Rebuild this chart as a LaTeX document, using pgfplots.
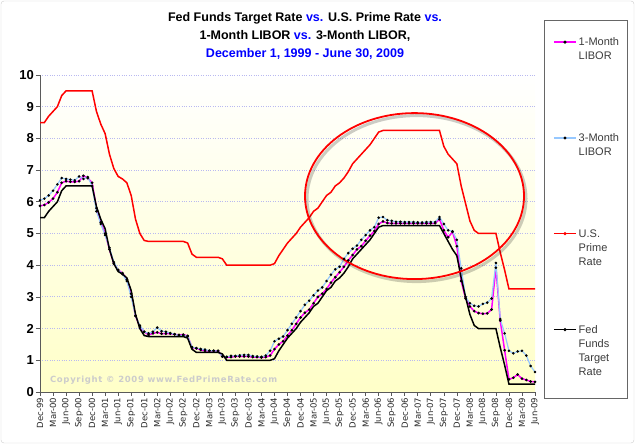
\documentclass[border=0pt]{standalone}
\usepackage{fontspec}
\setmainfont{Liberation Sans}
\newfontfamily\dejavu{DejaVu Sans}
\newfontfamily\dejavuls[LetterSpace=8]{DejaVu Sans}
\usepackage{pgfplots}
\pgfplotsset{compat=1.18}
\definecolor{libA}{RGB}{255,0,255}
\definecolor{libB}{RGB}{150,200,255}
\definecolor{gridc}{RGB}{185,185,240}
\definecolor{bgy}{RGB}{255,255,200}
\definecolor{titleblue}{RGB}{0,0,255}
\definecolor{legtext}{RGB}{60,60,60}
\definecolor{axc}{RGB}{90,90,90}
\definecolor{primered}{RGB}{255,0,0}
\begin{document}
\begin{tikzpicture}
\path[use as bounding box] (0pt,0pt) rectangle (640pt,444pt);
\draw[gray!40, rounded corners=3pt] (1pt,1pt) rectangle (634pt,443pt);
\node[align=center, font=\bfseries\fontsize{12.5}{18}\selectfont] at (305pt,408pt)
 {Fed Funds Target Rate \textcolor{titleblue}{vs.} U.S. Prime Rate \textcolor{titleblue}{vs.}\\
  1-Month LIBOR \textcolor{titleblue}{vs.} 3-Month LIBOR,\\
  \textcolor{titleblue}{December 1, 1999 - June 30, 2009}};
\draw[gray!80!black, fill=white] (544pt,46pt) rectangle (627pt,424pt);
\begin{axis}[
  at={(40pt,52pt)}, anchor=south west,
  scale only axis, width=495pt, height=317pt,
  xmin=0, xmax=114, ymin=0, ymax=10,
  axis lines*=left,
  axis line style={axc, line width=0.8pt},
  tick align=outside, major tick length=4pt,
  tick style={axc, line width=0.6pt},
  ytick={0,1,...,10},
  xtick={0,3,...,114},
  xticklabels={Dec-99,Mar-00,Jun-00,Sep-00,Dec-00,Mar-01,Jun-01,Sep-01,Dec-01,Mar-02,Jun-02,Sep-02,Dec-02,Mar-03,Jun-03,Sep-03,Dec-03,Mar-04,Jun-04,Sep-04,Dec-04,Mar-05,Jun-05,Sep-05,Dec-05,Mar-06,Jun-06,Sep-06,Dec-06,Mar-07,Jun-07,Sep-07,Dec-07,Mar-08,Jun-08,Sep-08,Dec-08,Mar-09,Jun-09},
  x tick label style={rotate=90, anchor=east, font=\dejavu\fontsize{8.5}{10}\selectfont, text=black!85, inner sep=1.5pt},
  y tick label style={font=\bfseries\fontsize{13}{15}\selectfont, inner sep=2pt},
  /pgf/number format/assume math mode=true,
  ymajorgrids, grid style={gridc, dotted, line width=0.8pt},
  axis background/.style={top color=white, bottom color=bgy},
  legend style={at={(1.0364,1.125)}, anchor=north west, draw=none, fill=none,
    font=\fontsize{11}{14}\selectfont, text=legtext, row sep=82.5pt, inner sep=0pt,
    cells={anchor=base west}},
]

% 1-Month LIBOR
\addplot[color=libA, line width=1.5pt, mark=*, mark size=0.45pt, mark options={black, fill=black},
  legend image code/.code={\draw[libA, line width=1.5pt] (0pt,3.5pt) -- (22pt,3.5pt); \fill[black] (11pt,3.5pt) circle[radius=0.7pt];}] coordinates {
(0,5.87)(1,5.9)(2,5.98)(3,6.1)(4,6.3)(5,6.6)(6,6.65)(7,6.63)(8,6.63)(9,6.65)(10,6.82)
(11,6.75)(12,6.6)(13,5.8)(14,5.35)(15,5.0)(16,4.5)(17,4.05)(18,3.85)(19,3.75)(20,3.55)
(21,3.1)(22,2.4)(23,2.05)(24,1.9)(25,1.8)(26,1.85)(27,1.88)(28,1.84)(29,1.84)(30,1.84)
(31,1.82)(32,1.8)(33,1.81)(34,1.77)(35,1.4)(36,1.38)(37,1.33)(38,1.3)(39,1.3)(40,1.3)
(41,1.3)(42,1.12)(43,1.1)(44,1.1)(45,1.12)(46,1.12)(47,1.12)(48,1.12)(49,1.1)(50,1.1)
(51,1.09)(52,1.1)(53,1.15)(54,1.35)(55,1.5)(56,1.6)(57,1.78)(58,1.95)(59,2.15)(60,2.35)
(61,2.5)(62,2.6)(63,2.8)(64,3.0)(65,3.1)(66,3.25)(67,3.45)(68,3.62)(69,3.78)(70,3.95)
(71,4.15)(72,4.32)(73,4.5)(74,4.6)(75,4.77)(76,4.93)(77,5.08)(78,5.3)(79,5.38)(80,5.33)
(81,5.32)(82,5.32)(83,5.32)(84,5.32)(85,5.32)(86,5.32)(87,5.32)(88,5.32)(89,5.32)(90,5.32)
(91,5.32)(92,5.45)(93,5.1)(94,4.88)(95,5.05)(96,4.6)(97,3.5)(98,2.95)(99,2.7)(100,2.55)
(101,2.49)(102,2.47)(103,2.48)(104,2.6)(105,3.92)(106,2.25)(107,1.32)(108,0.4)(109,0.45)
(110,0.55)(111,0.42)(112,0.38)(113,0.33)(114,0.32)};
\addlegendentry{\vtop{\hbox{1-Month}\hbox{LIBOR}}}

% 3-Month LIBOR
\addplot[color=libB, line width=1.2pt, mark=*, mark size=0.6pt, mark options={black, fill=black},
  legend image code/.code={\draw[libB, line width=1.2pt] (0pt,3.5pt) -- (22pt,3.5pt); \fill[black] (11pt,3.5pt) circle[radius=0.7pt];}] coordinates {
(0,6.05)(1,6.1)(2,6.2)(3,6.35)(4,6.55)(5,6.75)(6,6.72)(7,6.7)(8,6.68)(9,6.8)(10,6.72)
(11,6.78)(12,6.5)(13,5.7)(14,5.3)(15,4.95)(16,4.55)(17,4.1)(18,3.85)(19,3.72)(20,3.5)
(21,3.0)(22,2.4)(23,2.1)(24,1.9)(25,1.85)(26,1.9)(27,2.03)(28,1.92)(29,1.9)(30,1.86)
(31,1.82)(32,1.78)(33,1.78)(34,1.76)(35,1.42)(36,1.38)(37,1.36)(38,1.34)(39,1.3)(40,1.3)
(41,1.29)(42,1.12)(43,1.11)(44,1.14)(45,1.14)(46,1.16)(47,1.17)(48,1.17)(49,1.13)(50,1.12)
(51,1.11)(52,1.15)(53,1.3)(54,1.6)(55,1.68)(56,1.75)(57,1.95)(58,2.15)(59,2.35)(60,2.55)
(61,2.75)(62,2.88)(63,3.05)(64,3.2)(65,3.3)(66,3.5)(67,3.7)(68,3.87)(69,3.95)(70,4.2)
(71,4.38)(72,4.52)(73,4.62)(74,4.8)(75,4.95)(76,5.1)(77,5.2)(78,5.5)(79,5.52)(80,5.42)
(81,5.4)(82,5.37)(83,5.37)(84,5.36)(85,5.36)(86,5.36)(87,5.35)(88,5.35)(89,5.36)(90,5.36)
(91,5.36)(92,5.52)(93,5.3)(94,5.1)(95,5.07)(96,4.8)(97,3.9)(98,3.0)(99,2.8)(100,2.72)
(101,2.7)(102,2.78)(103,2.82)(104,2.95)(105,4.07)(106,2.3)(107,1.85)(108,1.3)(109,1.22)
(110,1.28)(111,1.3)(112,1.15)(113,0.82)(114,0.63)};
\addlegendentry{\vtop{\hbox{3-Month}\hbox{LIBOR}}}

% U.S. Prime Rate
\addplot[color=primered, line width=1.5pt,
  legend image code/.code={\draw[primered, line width=1.5pt] (0pt,3.5pt) -- (22pt,3.5pt); \fill[primered] (11pt,3.5pt) circle[radius=0.7pt];}] coordinates {
(0,8.5)(1,8.5)(2,8.7)(3,8.85)(4,9.0)(5,9.35)(6,9.5)(12,9.5)(13,8.85)(14,8.45)(15,8.15)
(16,7.5)(17,7.05)(18,6.8)(19,6.72)(20,6.6)(21,6.2)(22,5.45)(23,5.0)(24,4.78)(25,4.75)
(33,4.75)(34,4.7)(35,4.35)(36,4.25)(41,4.25)(42,4.2)(43,4.0)(53,4.0)(54,4.05)(55,4.3)
(56,4.5)(57,4.7)(58,4.85)(59,5.0)(60,5.2)(61,5.35)(62,5.5)(63,5.7)(64,5.8)(65,6.0)
(66,6.2)(67,6.3)(68,6.5)(69,6.6)(70,6.75)(71,6.95)(72,7.2)(73,7.35)(74,7.5)(75,7.65)
(76,7.8)(77,8.0)(78,8.2)(79,8.25)(92,8.25)(93,7.75)(94,7.5)(95,7.35)(96,7.2)(97,6.5)
(98,5.95)(99,5.4)(100,5.1)(101,5.0)(105,5.0)(106,4.4)(107,3.85)(108,3.25)(114,3.25)};
\addlegendentry{\vtop{\hbox{U.S.}\hbox{Prime}\hbox{Rate}}}

% Fed Funds Target Rate
\addplot[color=black, line width=1.5pt,
  legend image code/.code={\draw[black, line width=1.5pt] (0pt,3.5pt) -- (22pt,3.5pt); \fill[black] (11pt,3.5pt) circle[radius=0.7pt];}] coordinates {
(0,5.5)(1,5.5)(2,5.7)(3,5.85)(4,6.0)(5,6.35)(6,6.5)(12,6.5)(13,5.85)(14,5.45)(15,5.15)
(16,4.5)(17,4.05)(18,3.8)(19,3.72)(20,3.6)(21,3.2)(22,2.45)(23,2.0)(24,1.78)(25,1.75)
(33,1.75)(34,1.7)(35,1.35)(36,1.25)(41,1.25)(42,1.2)(43,1.0)(53,1.0)(54,1.05)(55,1.3)
(56,1.5)(57,1.7)(58,1.85)(59,2.0)(60,2.2)(61,2.35)(62,2.5)(63,2.7)(64,2.8)(65,3.0)
(66,3.2)(67,3.3)(68,3.5)(69,3.6)(70,3.75)(71,3.95)(72,4.2)(73,4.35)(74,4.5)(75,4.65)
(76,4.8)(77,5.0)(78,5.2)(79,5.25)(92,5.25)(93,5.0)(94,4.75)(95,4.5)(96,4.3)(97,3.6)
(98,3.0)(99,2.45)(100,2.1)(101,2.0)(105,2.0)(106,1.4)(107,0.85)(108,0.25)(114,0.25)};
\addlegendentry{\vtop{\hbox{Fed}\hbox{Funds}\hbox{Target}\hbox{Rate}}}

\node[anchor=west, font=\dejavuls\bfseries\fontsize{8.5}{9}\selectfont, text=gray!40] at (axis cs:1.5,0.38) {Copyright © 2009 www.FedPrimeRate.com};
\draw[black, opacity=0.2, line width=3pt] (axis cs:86.25,6.18) ++(2pt,-2.5pt) ellipse [x radius=109.5pt, y radius=83pt];
\draw[primered, line width=1.8pt] (axis cs:86.25,6.18) ellipse [x radius=109.5pt, y radius=83pt];
\end{axis}
\end{tikzpicture}
\end{document}
